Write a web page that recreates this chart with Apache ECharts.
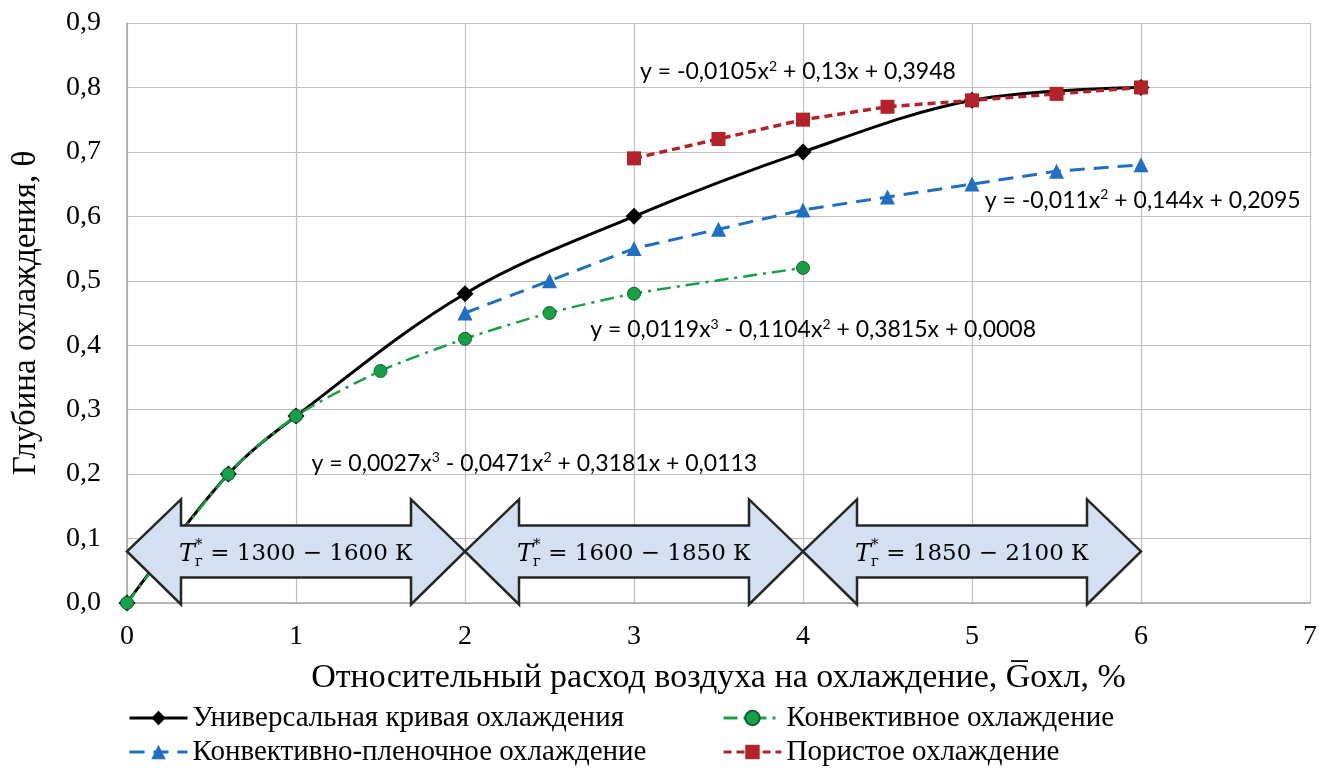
<!DOCTYPE html>
<html>
<head>
<meta charset="utf-8">
<script src="https://cdn.jsdelivr.net/npm/echarts@6/dist/echarts.min.js"></script>
<style>
  html, body { margin: 0; padding: 0; background: #fff; }
  #chart { width: 1319px; height: 772px; }
</style>
</head>
<body>
<div id="chart"></div>
<script>
// данные
const universalX = [0, 0.6, 1, 2, 3, 4, 5, 6];
const universalY = [0, 0.2, 0.29, 0.48, 0.6, 0.7, 0.78, 0.8];
const convX = [0, 0.6, 1, 1.5, 2, 2.5, 3, 4];
const convY = [0, 0.2, 0.29, 0.36, 0.41, 0.45, 0.48, 0.52];
const filmX = [2, 2.5, 3, 3.5, 4, 4.5, 5, 5.5, 6];
const filmY = [0.45, 0.5, 0.55, 0.58, 0.61, 0.63, 0.65, 0.67, 0.68];
const poreX = [3, 3.5, 4, 4.5, 5, 5.5, 6];
const poreY = [0.69, 0.72, 0.75, 0.77, 0.78, 0.79, 0.8];

// диапазоны температур (стрелки)
const arrowFrom = [0, 2, 4];
const arrowTo = [2, 4, 6];
const arrowLevel = 0.08;
const arrowText = ['1300 − 1600 К', '1600 − 1850 К', '1850 − 2100 К'];

// уравнения линий тренда и точки их привязки
const eqText = [
  'y = -0,0105x{s|2} + 0,13x + 0,3948',
  'y = -0,011x{s|2} + 0,144x + 0,2095',
  'y = 0,0119x{s|3} - 0,1104x{s|2} + 0,3815x + 0,0008',
  'y = 0,0027x{s|3} - 0,0471x{s|2} + 0,3181x + 0,0113'
];
const eqX = [3.97, 6.01, 4.06, 2.41];
const eqY = [0.824, 0.625, 0.424, 0.217];

const names = [
  'Универсальная кривая охлаждения',
  'Конвективное охлаждение',
  'Конвективно-пленочное охлаждение',
  'Пористое охлаждение'
];

const serif = 'Liberation Serif';
const mathFont = 'DejaVu Serif';

function pairs(xs, ys) {
  return xs.map((x, i) => [x, ys[i]]);
}

const measureCtx = document.createElement('canvas').getContext('2d');
function textWidth(font, s) {
  measureCtx.font = font;
  return measureCtx.measureText(s).width;
}

const legendBase = {
  orient: 'vertical',
  top: 703,
  padding: 0,
  itemGap: 4,
  itemWidth: 58,
  itemHeight: 18,
  lineStyle: { width: 3 },
  textStyle: { fontFamily: serif, fontSize: 29, color: '#000', lineHeight: 30 }
};

let chart = echarts.init(document.getElementById('chart'));

let option = {
  animation: false,
  grid: {
    left: 127,
    right: 9,
    top: 23,
    bottom: 169,
    outerBoundsMode: 'none'
  },
  legend: [
    Object.assign({ data: [names[0], names[2]], left: 128 }, legendBase),
    Object.assign({ data: [names[1], names[3]], left: 722 }, legendBase)
  ],
  xAxis: {
    type: 'value',
    min: 0,
    max: 7,
    interval: 1,
    name: 'Относительный расход воздуха на охлаждение, G\u0305охл, %',
    nameLocation: 'middle',
    nameGap: 58,
    nameTextStyle: { fontFamily: serif, fontSize: 34, color: '#000' },
    axisLine: { lineStyle: { color: '#a6a6a6', width: 1.5 } },
    axisTick: { show: false },
    axisLabel: { fontFamily: serif, fontSize: 28, color: '#000', margin: 20 },
    splitLine: { lineStyle: { color: '#bfbfbf', width: 1.2 } }
  },
  yAxis: {
    type: 'value',
    min: 0,
    max: 0.9,
    interval: 0.1,
    name: 'Глубина охлаждения, θ',
    nameLocation: 'middle',
    nameGap: 84,
    nameTextStyle: { fontFamily: serif, fontSize: 33, color: '#000' },
    axisLine: { show: true, lineStyle: { color: '#a6a6a6', width: 1.5 } },
    axisTick: { show: false },
    axisLabel: {
      fontFamily: serif, fontSize: 28, color: '#000', margin: 26,
      formatter: v => v.toFixed(1).replace('.', ',')
    },
    splitLine: { lineStyle: { color: '#bfbfbf', width: 1.2 } }
  },
  series: [
    {
      name: names[0],
      type: 'line',
      data: pairs(universalX, universalY),
      smooth: 0.35,
      symbol: 'diamond',
      symbolSize: 17,
      color: '#000000',
      lineStyle: { color: '#000000', width: 3 },
      itemStyle: { color: '#000000' }
    },
    {
      name: names[1],
      type: 'line',
      data: pairs(convX, convY),
      smooth: 0.25,
      symbol: 'circle',
      symbolSize: 13,
      color: '#17a048',
      lineStyle: { color: '#17a048', width: 2.5, type: [14, 6, 3, 6] },
      itemStyle: { color: '#17a048', borderColor: '#0f5e2b', borderWidth: 1 }
    },
    {
      name: names[2],
      type: 'line',
      data: pairs(filmX, filmY),
      symbol: 'triangle',
      symbolSize: 15,
      color: '#1f6fc2',
      lineStyle: { color: '#1f6fc2', width: 3, type: [15, 9] },
      itemStyle: { color: '#1f6fc2' }
    },
    {
      name: names[3],
      type: 'line',
      data: pairs(poreX, poreY),
      symbol: 'rect',
      symbolSize: 14,
      color: '#b22228',
      lineStyle: { color: '#b22228', width: 3.5, type: [8, 5] },
      itemStyle: { color: '#b22228' }
    },
    {
      // двунаправленные стрелки с диапазонами температур
      type: 'custom',
      z: 10,
      silent: true,
      data: arrowFrom.map((a, i) => [a, arrowTo[i], arrowLevel, i]),
      renderItem(params, api) {
        const p0 = api.coord([api.value(0), api.value(2)]);
        const p1 = api.coord([api.value(1), api.value(2)]);
        const cy = p0[1];
        const head = 54, bodyH = 26, headUp = 52, headDown = 53;
        const pts = [
          [p0[0], cy],
          [p0[0] + head, cy - headUp],
          [p0[0] + head, cy - bodyH],
          [p1[0] - head, cy - bodyH],
          [p1[0] - head, cy - headUp],
          [p1[0], cy],
          [p1[0] - head, cy + headDown],
          [p1[0] - head, cy + bodyH],
          [p0[0] + head, cy + bodyH],
          [p0[0] + head, cy + headDown]
        ];
        const rest = ' = ' + arrowText[api.value(3)];
        const fT = 'italic 24px "' + mathFont + '"';
        const fS = '15px "' + mathFont + '"';
        const fR = '23px "' + mathFont + '"';
        const wT = textWidth(fT, 'T');
        const wS = Math.max(textWidth(fS, '*'), textWidth(fS, 'г'));
        const wR = textWidth(fR, rest);
        const cx = (p0[0] + p1[0]) / 2;
        const x0 = cx - (wT + wS + wR) / 2;
        const ty = cy + 3;
        return {
          type: 'group',
          children: [
            {
              type: 'polygon',
              shape: { points: pts },
              style: { fill: '#d2e0f2', stroke: '#262626', lineWidth: 2.5, lineJoin: 'miter' }
            },
            {
              type: 'text',
              style: { x: x0, y: ty, text: 'T', font: fT, fill: '#000', align: 'left', verticalAlign: 'middle' }
            },
            {
              type: 'text',
              style: { x: x0 + wT, y: ty - 9, text: '*', font: fS, fill: '#000', align: 'left', verticalAlign: 'middle' }
            },
            {
              type: 'text',
              style: { x: x0 + wT, y: ty + 8, text: 'г', font: fS, fill: '#000', align: 'left', verticalAlign: 'middle' }
            },
            {
              type: 'text',
              style: { x: x0 + wT + wS, y: ty, text: rest, font: fR, fill: '#000', align: 'left', verticalAlign: 'middle' }
            }
          ]
        };
      }
    },
    {
      // подписи уравнений трендов
      type: 'custom',
      z: 11,
      silent: true,
      data: eqX.map((x, i) => [x, eqY[i], i]),
      renderItem(params, api) {
        const p = api.coord([api.value(0), api.value(1)]);
        return {
          type: 'text',
          style: {
            x: p[0],
            y: p[1],
            text: eqText[api.value(2)],
            fontFamily: 'Lato',
            fontSize: 23,
            fill: '#000',
            align: 'center',
            verticalAlign: 'middle',
            rich: {
              s: { fontFamily: 'Lato', fontSize: 14, fill: '#000', padding: [0, 0, 11, 0] }
            }
          }
        };
      }
    }
  ]
};
chart.setOption(option);
</script>
</body>
</html>
